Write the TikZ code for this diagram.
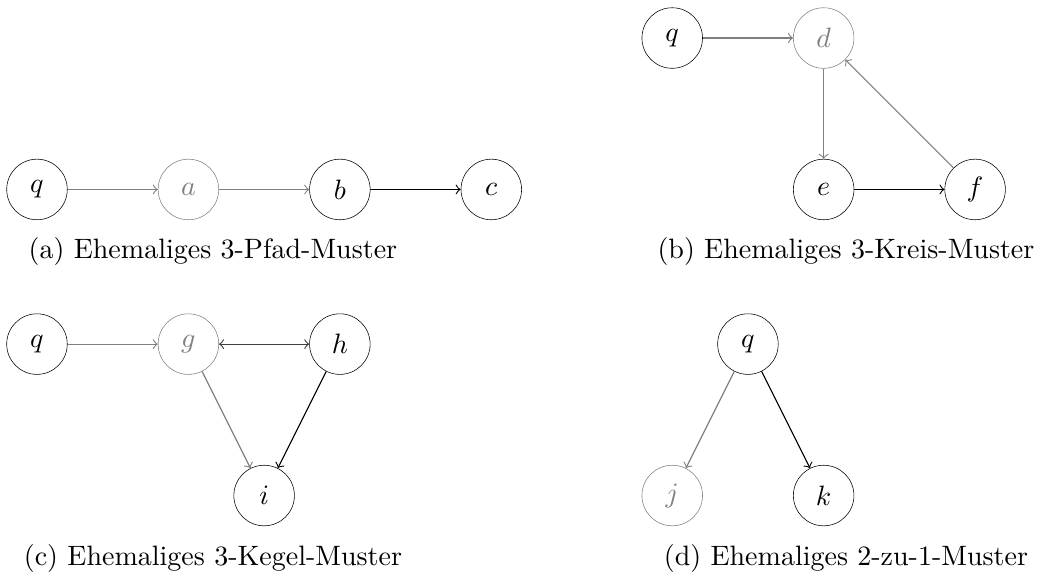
\documentclass[tikz,border=0pt]{standalone}
\usepackage{xcolor}
\usepackage{tikz}
\usetikzlibrary{positioning}

\begin{document}
\begin{tikzpicture}[
                vertex/.style={circle, draw=black, very thin, minimum size=0.76cm, inner sep=0pt},
                oldvertex/.style={vertex, draw=gray, text=gray},
                arrow/.style={->},
                oldarrow/.style={->, gray},
                caption/.style={inner sep=0pt},
                node distance=1.9cm, on grid
                ]
                \useasboundingbox (-0.464,0.477) rectangle (12.735,-6.813);
                % (a) 3-Pfad
                \node[vertex] (q1) at (0,-1.9) {$q$};
                \node[oldvertex] (a) [right=of q1] {$a$};
                \node[vertex] (b) [right=of a] {$b$};
                \node[vertex] (c) [right=of b] {$c$};
                \draw[oldarrow] (q1) -- (a);
                \draw[oldarrow] (a) -- (b);
                \draw[arrow] (b) -- (c);
                \node[caption] (capa) at (2.208,-2.673) {(a) Ehemaliges 3-Pfad-Muster};
                % (b) 3-Kreis
                \node[vertex] (q2) at (7.97,0) {$q$};
                \node[oldvertex] (d) [right=of q2] {$d$};
                \node[vertex] (e) [below=of d] {$e$};
                \node[vertex] (f) [right=of e] {$f$};
                \draw[oldarrow] (q2) -- (d);
                \draw[oldarrow] (d) -- (e);
                \draw[arrow] (e) -- (f);
                \draw[oldarrow] (f) -- (d);
                \node[caption] (capb) at (10.15,-2.673) {(b) Ehemaliges 3-Kreis-Muster};
                % (c) 3-Kegel
                \node[vertex] (q3) at (0,-3.84) {$q$};
                \node[oldvertex] (g) [right=of q3] {$g$};
                \node[vertex] (h) [right=of g] {$h$};
                \node[vertex] (i) [below right=1.9cm and 0.95cm of g] {$i$};
                \draw[oldarrow] (q3) -- (g);
                \draw[arrow, <->, black!75] (g) -- (h);
                \draw[oldarrow] (g) -- (i);
                \draw[arrow] (h) -- (i);
                \node[caption] (capc) at (2.208,-6.524) {(c) Ehemaliges 3-Kegel-Muster};
                % (d) 2-zu-1
                \node[vertex] (q4) at (8.92,-3.84) {$q$};
                \node[oldvertex] (j) [below left=1.9cm and 0.95cm of q4] {$j$};
                \node[vertex] (k) [below right=1.9cm and 0.95cm of q4] {$k$};
                \draw[oldarrow] (q4) -- (j);
                \draw[arrow] (q4) -- (k);
                \node[caption] (capd) at (10.15,-6.524) {(d) Ehemaliges 2-zu-1-Muster};
            \end{tikzpicture}
\end{document}
